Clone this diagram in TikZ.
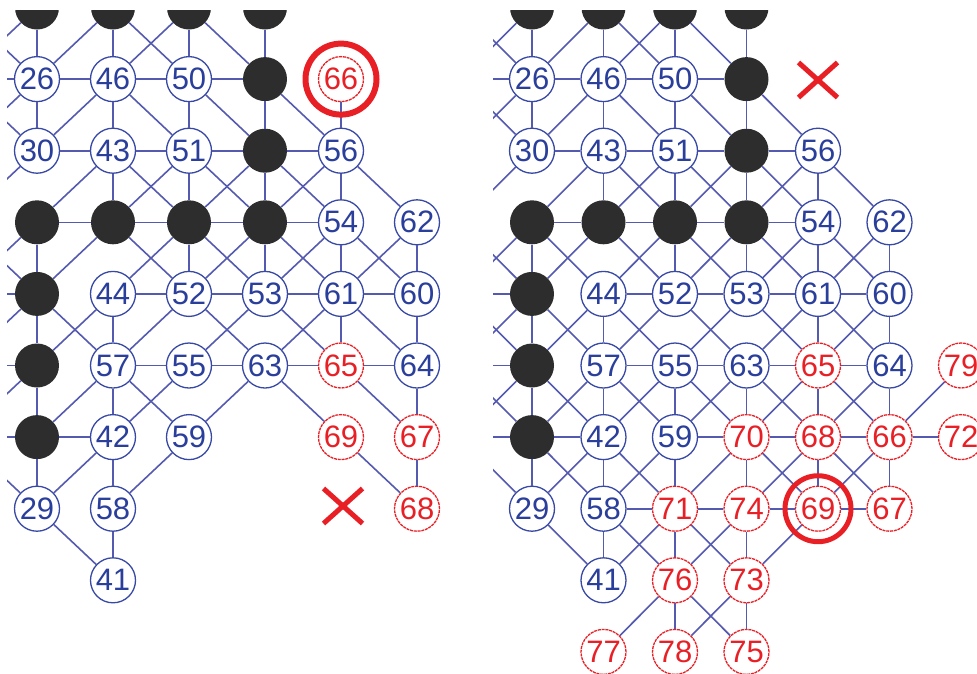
\documentclass[tikz,border=0pt]{standalone}
\usepackage{fontspec}
\setmainfont{Liberation Sans}
\usetikzlibrary{shapes.misc}
\definecolor{edgeblue}{RGB}{84,90,176}
\definecolor{nodeblue}{RGB}{55,72,165}
\definecolor{textblue}{RGB}{42,62,155}
\definecolor{myred}{RGB}{232,32,38}
\definecolor{stone}{RGB}{45,45,45}
\newcommand\numfont{\fontsize{31}{31}\selectfont}
\tikzset{
 nb/.style={circle, draw=nodeblue, fill=white, line width=1.3pt, minimum size=45pt, inner sep=0pt, text=textblue, font=\numfont},
 nr/.style={nb, draw=myred, dash pattern=on 3pt off 0.8pt, text=myred},
 nk/.style={circle, fill=stone, minimum size=44pt, inner sep=0pt},
 link/.style={draw=edgeblue, line width=1.6pt},
 ring/.style={circle, draw=myred, inner sep=0pt},
 xmark/.style={cross out, draw=myred, line width=5pt, minimum width=34pt, minimum height=30pt, inner sep=0pt},
}
\newcommand\blacklist{0/0,1/0,2/0,3/0,3/1,3/2,0/3,1/3,2/3,3/3,0/4,0/5,0/6}
\newcommand\bluelist{0/1/26,1/1/46,2/1/50,0/2/30,1/2/43,2/2/51,4/2/56,4/3/54,5/3/62,1/4/44,2/4/52,3/4/53,4/4/61,5/4/60,1/5/57,2/5/55,3/5/63,5/5/64,1/6/42,2/6/59,0/7/29,1/7/58,1/8/41}
\newcommand\commonedges{0/0/0/1,1/0/1/1,2/0/2/1,3/0/3/1,
0/1/1/0,1/0/2/1,1/1/2/0,2/0/3/1,
0/1/1/1,1/1/2/1,2/1/3/1,
0/1/0/2,1/1/1/2,2/1/2/2,3/1/3/2,
0/2/1/1,1/1/2/2,2/1/3/2,3/1/4/2,
0/2/1/2,1/2/2/2,2/2/3/2,3/2/4/2,
1/2/1/3,2/2/2/3,3/2/3/3,4/2/4/3,
0/3/1/2,1/2/2/3,1/3/2/2,2/2/3/3,2/3/3/2,3/2/4/3,3/3/4/2,4/2/5/3,
0/3/1/3,1/3/2/3,2/3/3/3,3/3/4/3,
0/3/0/4,2/3/2/4,3/3/3/4,4/3/4/4,5/3/5/4,
0/4/1/3,1/3/2/4,1/4/2/3,2/3/3/4,2/4/3/3,3/3/4/4,3/4/4/3,4/3/5/4,4/4/5/3,
1/4/2/4,2/4/3/4,3/4/4/4,4/4/5/4,
0/4/0/5,1/4/1/5,4/4/4/5,5/4/5/5,
0/4/1/5,0/5/1/4,1/5/2/4,2/4/3/5,2/5/3/4,3/4/4/5,3/5/4/4,4/4/5/5,
1/5/2/5,2/5/3/5,3/5/4/5,4/5/5/5,
0/5/0/6,1/5/1/6,5/5/5/6,
0/6/1/5,1/5/2/6,1/6/2/5,2/6/3/5,3/5/4/6,4/5/5/6,
0/6/1/6,
0/6/0/7,1/6/0/7,1/6/1/7,2/6/1/7,4/6/5/7,5/6/5/7,
0/7/1/8,1/7/1/8}
\begin{document}
\begin{tikzpicture}[x=1pt,y=-1pt]
\useasboundingbox (0,0) rectangle (977,673);
% ---------------- left panel ----------------
\begin{scope}
\clip (7,10) rectangle (480,673);
\foreach \j in {0,...,8} \coordinate (L-m-\j) at (-39,{7.5+71.6*\j});
\foreach \i/\j in \blacklist \node[nk] (L-\i-\j) at ({37+76*\i},{7.5+71.6*\j}) {};
\foreach \i/\j/\lab in \bluelist \node[nb] (L-\i-\j) at ({37+76*\i},{7.5+71.6*\j}) {\lab};
\foreach \i/\j/\lab in {4/1/66,4/5/65,4/6/69,5/6/67,5/7/68} \node[nr] (L-\i-\j) at ({37+76*\i},{7.5+71.6*\j}) {\lab};
\foreach \pa/\pb/\pc/\pd in \commonedges {\draw[link] (L-\pa-\pb) -- (L-\pc-\pd);}
\foreach \pa/\pb/\pc/\pd in {4/1/4/2,
m/0/0/1,m/1/0/0,m/1/0/1,m/2/0/1,m/1/0/2,m/3/0/2,m/4/0/3,m/3/0/4,m/4/0/4,m/5/0/4,m/5/0/5,m/6/0/5,m/6/0/6,m/6/0/7}
 {\draw[link] (L-\pa-\pb) -- (L-\pc-\pd);}
\node[ring, line width=6pt, minimum size=71pt] (Lring) at (L-4-1) {};
\node[xmark] (LX) at (343,506) {};
\end{scope}
% ---------------- right panel ----------------
\begin{scope}
\clip (493,10) rectangle (977,673);
\foreach \j in {0,...,9} \coordinate (R-m-\j) at (460.5,{7.5+71.6*\j});
\foreach \i/\j in \blacklist \node[nk] (R-\i-\j) at ({532+71.5*\i},{7.5+71.6*\j}) {};
\foreach \i/\j/\lab in \bluelist \node[nb] (R-\i-\j) at ({532+71.5*\i},{7.5+71.6*\j}) {\lab};
\foreach \i/\j/\lab in {4/5/65,6/5/79,3/6/70,4/6/68,5/6/66,6/6/72,2/7/71,3/7/74,4/7/69,5/7/67,2/8/76,3/8/73,1/9/77,2/9/78,3/9/75}
 \node[nr] (R-\i-\j) at ({532+71.5*\i},{7.5+71.6*\j}) {\lab};
\foreach \pa/\pb/\pc/\pd in \commonedges {\draw[link] (R-\pa-\pb) -- (R-\pc-\pd);}
\foreach \pa/\pb/\pc/\pd in {0/3/1/4,1/4/2/5,4/5/5/4,0/5/1/6,2/5/2/6,3/5/3/6,4/5/4/6,2/5/3/6,3/6/4/5,4/6/5/5,5/6/6/5,
2/6/3/6,3/6/4/6,4/6/5/6,5/6/6/6,
0/6/1/7,1/6/2/7,2/6/2/7,2/7/3/6,3/6/3/7,3/6/4/7,4/6/3/7,4/6/4/7,5/6/4/7,
1/7/2/7,2/7/3/7,3/7/4/7,4/7/5/7,
1/7/2/8,2/7/1/8,2/7/2/8,2/7/3/8,3/7/2/8,3/7/3/8,4/7/3/8,
2/8/1/9,2/8/2/9,2/8/3/9,3/8/2/9,3/8/3/9,
m/0/0/1,m/1/0/0,m/1/0/1,m/2/0/1,m/1/0/2,m/3/0/2,m/4/0/3,m/3/0/4,m/4/0/4,m/5/0/4,m/4/0/5,m/5/0/5,m/6/0/5,m/5/0/6,m/6/0/6,m/6/0/7}
 {\draw[link] (R-\pa-\pb) -- (R-\pc-\pd);}
\node[ring, line width=5pt, minimum size=66pt] (Rring) at (R-4-7) {};
\node[xmark] (RX) at (818,80) {};
\end{scope}
\end{tikzpicture}
\end{document}
